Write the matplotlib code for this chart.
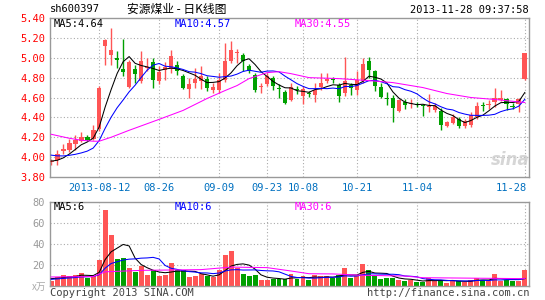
import matplotlib
matplotlib.use("Agg")
import matplotlib.pyplot as plt
import numpy as np
import pandas as pd

# daily candles, 2013-07-31 .. 2013-11-28 (80 trading days)
opens = [3.95, 3.97, 4.06, 4.07, 4.13, 4.16, 4.20, 4.18, 4.28, 5.12,
         5.03, 5.00, 4.89, 4.71, 4.89, 4.77, 4.90, 4.96, 4.77, 4.88,
         4.89, 4.93, 4.82, 4.69, 4.75, 4.77, 4.79, 4.68, 4.68, 4.78,
         4.97, 5.05, 5.03, 4.92, 4.83, 4.71, 4.74, 4.80, 4.70, 4.66,
         4.57, 4.69, 4.62, 4.65, 4.63, 4.71, 4.77, 4.79, 4.73, 4.65,
         4.73, 4.68, 4.77, 4.97, 4.87, 4.71, 4.59, 4.59, 4.46, 4.55,
         4.53, 4.53, 4.52, 4.50, 4.47, 4.46, 4.31, 4.34, 4.38, 4.31,
         4.32, 4.40, 4.52, 4.52, 4.55, 4.57, 4.58, 4.51, 4.53, 4.79]
closes = [3.96, 4.03, 4.08, 4.14, 4.17, 4.20, 4.17, 4.27, 4.70, 5.18,
          5.08, 4.98, 4.86, 4.96, 4.84, 4.97, 4.91, 4.78, 4.86, 4.91,
          5.02, 4.87, 4.70, 4.74, 4.79, 4.82, 4.70, 4.71, 4.78, 4.97,
          5.08, 5.06, 4.97, 4.87, 4.68, 4.72, 4.82, 4.72, 4.69, 4.54,
          4.71, 4.68, 4.69, 4.64, 4.68, 4.75, 4.79, 4.78, 4.62, 4.77,
          4.70, 4.78, 4.94, 4.88, 4.72, 4.61, 4.58, 4.49, 4.57, 4.52,
          4.54, 4.52, 4.51, 4.51, 4.51, 4.32, 4.35, 4.40, 4.31, 4.36,
          4.42, 4.51, 4.51, 4.53, 4.60, 4.59, 4.53, 4.50, 4.58, 5.05]
highs = [3.98, 4.07, 4.13, 4.18, 4.22, 4.25, 4.22, 4.32, 4.72, 5.19,
         5.30, 5.07, 5.19, 4.98, 4.93, 5.07, 5.00, 5.00, 4.92, 4.96,
         5.08, 4.97, 4.84, 4.80, 4.90, 4.92, 4.82, 4.75, 4.85, 5.15,
         5.17, 5.09, 5.05, 4.94, 4.85, 4.75, 4.85, 4.82, 4.74, 4.68,
         4.75, 4.72, 4.72, 4.67, 4.75, 4.85, 4.85, 4.81, 4.75, 5.01,
         4.75, 4.87, 5.00, 5.01, 4.88, 4.75, 4.66, 4.63, 4.58, 4.58,
         4.58, 4.55, 4.53, 4.64, 4.54, 4.49, 4.36, 4.43, 4.40, 4.38,
         4.45, 4.55, 4.55, 4.57, 4.70, 4.68, 4.59, 4.54, 4.59, 5.05]
lows = [3.92, 3.92, 4.03, 4.05, 4.07, 4.15, 4.16, 4.17, 4.26, 4.93,
        4.93, 4.90, 4.82, 4.70, 4.75, 4.75, 4.87, 4.70, 4.74, 4.78,
        4.85, 4.83, 4.69, 4.60, 4.70, 4.69, 4.67, 4.65, 4.65, 4.76,
        4.95, 4.95, 4.87, 4.85, 4.66, 4.65, 4.72, 4.68, 4.60, 4.53,
        4.56, 4.64, 4.53, 4.61, 4.55, 4.68, 4.75, 4.75, 4.55, 4.62,
        4.63, 4.63, 4.75, 4.80, 4.67, 4.60, 4.52, 4.35, 4.45, 4.48,
        4.49, 4.50, 4.41, 4.45, 4.45, 4.27, 4.30, 4.33, 4.29, 4.29,
        4.30, 4.38, 4.46, 4.48, 4.50, 4.56, 4.47, 4.48, 4.45, 4.78]
# volume, x万 shares
volumes = [4.8, 8.6, 10.8, 9.2, 10.8, 12.1, 7.9, 9.5, 24.4, 72.0,
           49.0, 25.4, 27.0, 17.5, 13.7, 18.7, 10.2, 14.9, 9.2, 10.2,
           21.9, 14.9, 14.9, 8.6, 9.2, 11.1, 9.2, 8.6, 14.9, 29.2,
           33.0, 17.1, 11.1, 9.2, 10.2, 5.4, 6.0, 7.0, 7.0, 7.0,
           11.1, 7.0, 9.2, 5.4, 10.2, 9.2, 9.2, 7.9, 10.2, 17.1,
           7.9, 9.2, 20.6, 14.9, 9.2, 7.0, 7.9, 7.9, 6.0, 4.8,
           5.4, 3.8, 3.8, 7.9, 4.8, 6.0, 2.9, 4.8, 4.8, 3.8,
           6.0, 7.9, 6.0, 4.8, 11.7, 4.8, 6.0, 4.8, 4.8, 14.9]
# closes / volumes of the days just before the chart window (for MA5/MA10)
prior_closes = [4.10, 4.09, 4.08, 4.07, 4.06, 3.99, 3.96, 3.95, 3.94]
prior_volumes = [5, 6, 5, 7, 6, 6, 8, 7, 9]
# MA30 at some days
ma30_idx = [0, 3, 5, 7, 8, 10, 13, 18, 22, 26, 29, 31, 33, 36, 38, 40, 43, 48, 53, 57, 62, 66, 70, 74, 79]
ma30_price = [4.23, 4.19, 4.17, 4.16, 4.16, 4.20, 4.27, 4.38, 4.47, 4.59, 4.67, 4.72, 4.79, 4.85, 4.86,
              4.84, 4.80, 4.79, 4.77, 4.75, 4.70, 4.64, 4.60, 4.58, 4.55]
vma30_idx = [0, 7, 9, 15, 25, 30, 36, 40, 43, 47, 52, 59, 62, 79]
vma30_vol = [8.6, 9.0, 13.5, 14.9, 15.6, 18.0, 17.5, 14.3, 11.7, 11.5, 10.2, 9.5, 7.9, 7.0]

date_idx = [8, 18, 28, 36, 42, 51, 61, 79]
date_labels = ["2013-08-12", "08-26", "09-09", "09-23", "10-08", "10-21", "11-04", "11-28"]
price_ticks = [3.80, 4.00, 4.20, 4.40, 4.60, 4.80, 5.00, 5.20, 5.40]
vol_ticks = [20, 40, 60, 80]

RED = "#ff5555"
GREEN = "#00a000"
GRID = "#aaaaaa"
MONO = "DejaVu Sans Mono"

n = len(closes)
x = np.arange(n)
o = np.array(opens)
c = np.array(closes)
up = c >= o

cs = pd.Series(prior_closes + closes)
ma5 = cs.rolling(5).mean().values[len(prior_closes):]
ma10 = cs.rolling(10).mean().values[len(prior_closes):]
vs = pd.Series(prior_volumes + volumes)
vma5 = vs.rolling(5).mean().values[len(prior_volumes):]
vma10 = vs.rolling(10).mean().values[len(prior_volumes):]

W, H = 545, 300
fig = plt.figure(figsize=(W / 100, H / 100), dpi=100)
fig.patch.set_facecolor("white")

def fx(px):
    return px / W

def fy(py):
    return 1 - py / H

ax = fig.add_axes([fx(50), fy(177), fx(479), 159 / H])
axv = fig.add_axes([fx(50), fy(286), fx(479), 84 / H])

for a in (ax, axv):
    a.set_xlim(-0.2, n - 0.3)
    for s in a.spines.values():
        s.set_color("#999999")
        s.set_linewidth(1)
    a.tick_params(length=0)
    a.set_xticks([])
    for i in date_idx:
        a.axvline(i, color=GRID, lw=0.8, ls=(0, (1, 2)), zorder=0)

# price panel
ax.set_ylim(3.80, 5.40)
ax.set_yticks(price_ticks)
ax.set_yticklabels(["%.2f" % v for v in price_ticks], color="red", fontsize=7.5, family=MONO)
for v in price_ticks[1:-1]:
    ax.axhline(v, color=GRID, lw=0.8, ls=(0, (1, 2)), zorder=0)

colors = [RED if u else GREEN for u in up]
ax.vlines(x, lows, highs, colors=colors, lw=1, zorder=2)
body = np.maximum(np.abs(c - o), 0.008)
ax.bar(x, body, bottom=np.minimum(o, c), width=0.78, color=colors, zorder=3)

ax.plot(x, ma5, color="black", lw=0.75, zorder=4)
ax.plot(x, ma10, color="blue", lw=0.75, zorder=4)
ax.plot(ma30_idx, ma30_price, color="#ff00ff", lw=0.75, zorder=4)

for i, lab in zip(date_idx, date_labels):
    ha = "right" if i == date_idx[-1] else "center"
    xi = i + 0.4 if ha == "right" else i
    ax.text(xi, -0.035, lab, transform=ax.get_xaxis_transform(), ha=ha, va="top",
            color="#0070c0", fontsize=7.5, family=MONO)

# volume panel
axv.set_ylim(0, 80)
axv.set_yticks(vol_ticks)
axv.set_yticklabels([str(v) for v in vol_ticks], color="#999999", fontsize=7.5, family=MONO)
for v in vol_ticks[:-1]:
    axv.axhline(v, color=GRID, lw=0.8, ls=(0, (1, 2)), zorder=0)
axv.bar(x, volumes, width=0.83, color=colors, zorder=2)
axv.plot(x, vma5, color="black", lw=0.75, zorder=4)
axv.plot(x, vma10, color="blue", lw=0.75, zorder=4)
axv.plot(vma30_idx, vma30_vol, color="#ff00ff", lw=0.75, zorder=4)

# texts
fig.text(fx(50), fy(9), "sh600397", ha="left", va="center", fontsize=7.5, family=MONO)
fig.text(fx(177), fy(9), "安源煤业 - 日K线图", ha="center", va="center", fontsize=8.5,
         family=["Noto Sans CJK SC", "DejaVu Sans"])
fig.text(fx(529), fy(10), "2013-11-28 09:37:58", ha="right", va="center", fontsize=7.5, family=MONO)

fig.text(fx(54), fy(24), "MA5:4.64", ha="left", va="center", fontsize=7.5, family=MONO, color="black")
fig.text(fx(175), fy(24), "MA10:4.57", ha="left", va="center", fontsize=7.5, family=MONO, color="blue")
fig.text(fx(295), fy(24), "MA30:4.55", ha="left", va="center", fontsize=7.5, family=MONO, color="#ff00ff")
fig.text(fx(54), fy(207), "MA5:6", ha="left", va="center", fontsize=7.5, family=MONO, color="black")
fig.text(fx(175), fy(207), "MA10:6", ha="left", va="center", fontsize=7.5, family=MONO, color="blue")
fig.text(fx(295), fy(207), "MA30:6", ha="left", va="center", fontsize=7.5, family=MONO, color="#ff00ff")

fig.text(fx(46), fy(287), "x万", ha="right", va="center", fontsize=7, color="#aaaaaa",
         family=["Noto Sans CJK SC", "DejaVu Sans"])
fig.text(fx(50), fy(293), "Copyright 2013 SINA.COM", ha="left", va="center", fontsize=7.5,
         family=MONO, color="#444444")
fig.text(fx(529), fy(293), "http://finance.sina.com.cn", ha="right", va="center", fontsize=7.5,
         family=MONO, color="#444444")
fig.text(fx(510), fy(160), "sina", ha="center", va="center", fontsize=12, style="italic",
         weight="bold", color="#cccccc", alpha=0.8)

fig.savefig("out.png", dpi=100, facecolor="white")
